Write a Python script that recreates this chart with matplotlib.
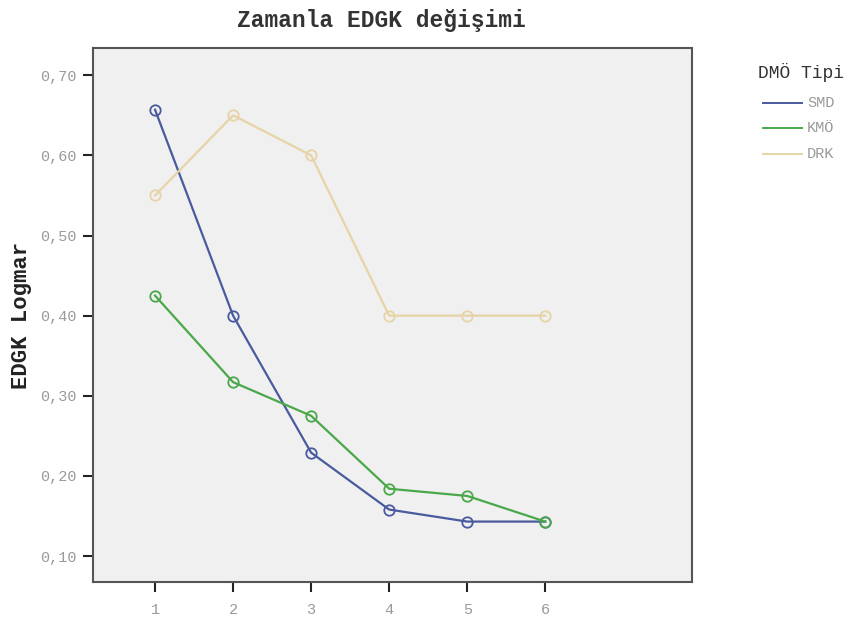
import numpy as np
import matplotlib
matplotlib.use("Agg")
import matplotlib.pyplot as plt
from matplotlib.lines import Line2D
from matplotlib.ticker import FuncFormatter

# Veriler
zaman = [1, 2, 3, 4, 5, 6]
smd = [0.657, 0.400, 0.229, 0.158, 0.143, 0.143]
kmo = [0.425, 0.317, 0.275, 0.184, 0.175, 0.143]
drk = [0.550, 0.650, 0.600, 0.400, 0.400, 0.400]
gruplar = ["SMD", "KMÖ", "DRK"]
renkler = ["#4a5a9e", "#4aa84a", "#e6d4a6"]
y_ticks = [0.10, 0.20, 0.30, 0.40, 0.50, 0.60, 0.70]

MONO = ["Liberation Mono", "DejaVu Sans Mono"]
plt.rcParams["font.family"] = MONO

W, H = 858, 618
fig = plt.figure(figsize=(W / 100, H / 100), dpi=100)
ax = fig.add_axes([93 / W, 36 / H, 599 / W, 534 / H])
ax.set_facecolor("#f0f0f0")

for seri, renk in zip([smd, kmo, drk], renkler):
    ax.plot(zaman, seri, color=renk, lw=1.6, marker="o", ms=7.5,
            mfc="none", mec=renk, mew=1.3)

ax.set_xlim(0.205, 7.88)
ax.set_ylim(0.0676, 0.734)
ax.set_xticks(zaman)
ax.set_yticks(y_ticks)
ax.yaxis.set_major_formatter(FuncFormatter(lambda v, p: f"{v:.2f}".replace(".", ",")))
ax.tick_params(axis="both", direction="out", length=7, width=1.5, color="#222222",
               labelcolor="#9a9a9a", labelsize=11)
ax.tick_params(axis="y", pad=5)
ax.tick_params(axis="x", pad=8)
for s in ax.spines.values():
    s.set_color("#555555")
    s.set_linewidth(1.5)

ax.set_ylabel("EDGK Logmar", fontsize=16, fontweight="bold", color="#222222", labelpad=6)
fig.text(381 / W, 1 - 20 / H, "Zamanla EDGK değişimi", ha="center", va="center",
         fontsize=16.5, fontweight="bold", color="#333333")

# açıklama (legend) elle çizildi
fig.text(758 / W, 1 - 73 / H, "DMÖ Tipi", ha="left", va="center",
         fontsize=13, color="#333333")
for i, (ad, renk) in enumerate(zip(gruplar, renkler)):
    y = 1 - (103 + 25.5 * i) / H
    fig.add_artist(Line2D([763 / W, 802 / W], [y, y], color=renk, lw=1.4,
                          transform=fig.transFigure))
    fig.text(807 / W, y, ad, ha="left", va="center", fontsize=11, color="#9a9a9a")

fig.savefig("out.png", dpi=100)
